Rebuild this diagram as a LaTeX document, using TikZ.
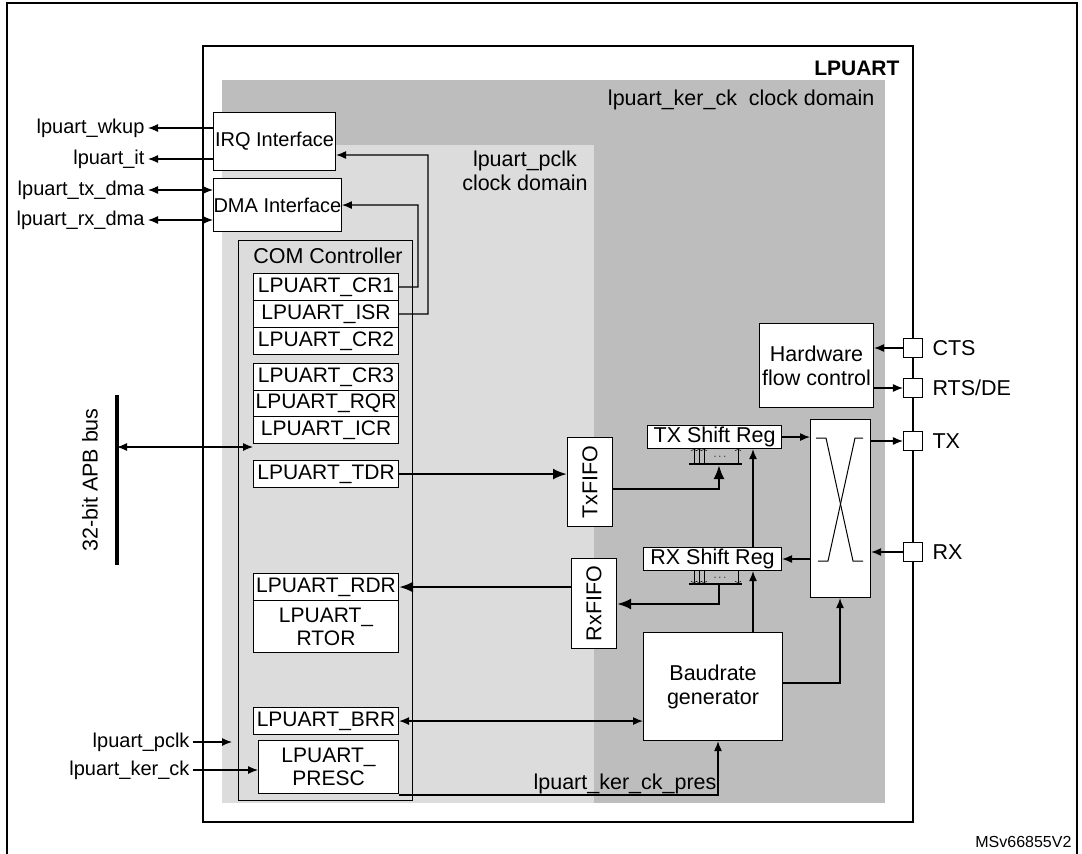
\documentclass[tikz,border=0pt]{standalone}
\usepackage{fontspec}
\setmainfont{Liberation Sans}
\usetikzlibrary{arrows.meta}
\definecolor{darkdom}{HTML}{BDBDBD}
\definecolor{lightdom}{HTML}{DCDCDC}
\tikzset{
	blk/.style={draw, line width=1.1pt, fill=white, inner sep=0pt, anchor=north west},
	regbox/.style={blk, minimum width=145pt, font=\fontsize{21}{23}\selectfont},
	pin/.style={draw, line width=1.1pt, fill=white, minimum size=19pt, inner sep=0pt},
	extlbl/.style={anchor=east, font=\fontsize{20}{22}\selectfont},
	sig/.style={-{Latex[length=10pt,width=8pt]}, line width=1.2pt},
	dsig/.style={{Latex[length=10pt,width=8pt]}-{Latex[length=10pt,width=8pt]}, line width=1.2pt},
	bus/.style={-{Latex[length=14pt,width=11pt]}, line width=2.4pt},
	dots/.style={inner sep=0pt, font=\fontsize{11}{11}\selectfont},
}
\begin{document}
\begin{tikzpicture}[x=1pt, y=-1pt, font=\fontsize{21.5}{24}\selectfont]
	\useasboundingbox (0,0) rectangle (1082,854);
	% frame and clock domains
	\draw[line width=1.1pt] (7,854) -- (7,3) -- (1077,3) -- (1077,854);
	\draw[line width=1.4pt] (203,46) rectangle (913,822);
	\fill[darkdom] (222,80) rectangle (885,803);
	\fill[lightdom] (222,145) rectangle (594,803);
	\node[anchor=east, font=\fontsize{21}{24}\selectfont\bfseries] (title) at (903,68) {LPUART};
	\node[anchor=east] (kerdom) at (878,100) {lpuart\_ker\_ck\ \ clock domain};
	\node[align=center] (pclkdom) at (525,171) {lpuart\_pclk\\clock domain};
	% interfaces
	\node[blk, minimum width=122pt, minimum height=58pt, font=\fontsize{20}{22}\selectfont] (irq) at (213,112) {IRQ Interface};
	\node[blk, minimum width=122pt, minimum height=53pt, font=\fontsize{20}{22}\selectfont] (dma) at (213,178) {DMA Interface};
	\node[blk, fill=lightdom, minimum width=174pt, minimum height=560pt] (com) at (238,240) {};
	\node[anchor=north, font=\fontsize{21.5}{24}\selectfont] (comlbl) at (328,244) {COM Controller};
	% registers
	\node[regbox, minimum height=27pt] (cr1) at (253,273) {LPUART\_CR1};
	\node[regbox, minimum height=27pt] (isr) at (253,300) {LPUART\_ISR};
	\node[regbox, minimum height=27pt] (cr2) at (253,327) {LPUART\_CR2};
	\node[regbox, minimum height=27pt] (cr3) at (253,363) {LPUART\_CR3};
	\node[regbox, minimum height=26pt] (rqr) at (253,390) {LPUART\_RQR};
	\node[regbox, minimum height=27pt] (icr) at (253,416) {LPUART\_ICR};
	\node[regbox, minimum height=27pt] (tdr) at (253,460) {LPUART\_TDR};
	\node[regbox, minimum height=27pt] (rdr) at (253,573) {LPUART\_RDR};
	\node[regbox, minimum height=52pt, align=center] (rtor) at (253,600) {LPUART\_\\RTOR};
	\node[regbox, minimum height=27pt] (brr) at (253,707) {LPUART\_BRR};
	\node[regbox, minimum width=140pt, minimum height=53pt, align=center] (presc) at (258,740) {LPUART\_\\PRESC};
	% datapath blocks
	\node[blk, minimum width=45pt, minimum height=89pt] (txfifo) at (567,437) {};
	\node[rotate=90] at (txfifo.center) {TxFIFO};
	\node[blk, minimum width=45pt, minimum height=90pt] (rxfifo) at (571,558) {};
	\node[rotate=90] at (rxfifo.center) {RxFIFO};
	\node[blk, minimum width=134pt, minimum height=23pt] (txsh) at (647,425) {TX Shift Reg};
	\node[blk, minimum width=138pt, minimum height=23pt] (rxsh) at (643,547) {RX Shift Reg};
	\node[blk, minimum width=114pt, minimum height=84pt, align=center] (hwfc) at (759,323) {Hardware\\flow control};
	\node[blk, minimum width=139pt, minimum height=108pt, align=center] (baud) at (643,632) {Baudrate\\generator};
	\node[blk, minimum width=60pt, minimum height=178pt] (xbar) at (810,419) {};
	\draw[line width=1pt] (816,438) -- (826,438) -- (853,561) -- (863,561);
	\draw[line width=1pt] (818,561) -- (828,561) -- (855,438) -- (863,438);
	% pins
	\node[pin] (cts) at (913,348) {};
	\node[pin] (rts) at (913,388) {};
	\node[pin] (tx) at (913,441) {};
	\node[pin] (rx) at (913,552) {};
	\node[anchor=west] at (cts.east) {\ CTS};
	\node[anchor=west] at (rts.east) {\ RTS/DE};
	\node[anchor=west] at (tx.east) {\ TX};
	\node[anchor=west] at (rx.east) {\ RX};
	% external signals
	\coordinate (wkup) at (148,128);
	\coordinate (it) at (148,159);
	\coordinate (txdma) at (148,190);
	\coordinate (rxdma) at (148,220);
	\coordinate (pclk) at (193,742);
	\coordinate (kerck) at (193,770);
	\node[extlbl] at (wkup) {lpuart\_wkup\ };
	\node[extlbl] at (it) {lpuart\_it\ };
	\node[extlbl] at (txdma) {lpuart\_tx\_dma\ };
	\node[extlbl] at (rxdma) {lpuart\_rx\_dma\ };
	\node[extlbl] at (pclk) {lpuart\_pclk\ };
	\node[extlbl] at (kerck) {lpuart\_ker\_ck\ };
	\draw[sig] (irq.west |- wkup) -- (wkup);
	\draw[sig] (irq.west |- it) -- (it);
	\draw[dsig] (txdma) -- (dma.west |- txdma);
	\draw[dsig] (rxdma) -- (dma.west |- rxdma);
	\draw[sig] (pclk) -- (232,742);
	\draw[sig] (kerck) -- (presc.west |- kerck);
	% interrupt and dma requests
	\draw[sig] (cr1.east) -- (418,287) |- (dma.east);
	\draw[sig] (isr.east) -- (428,314) |- (irq.east |- 0,155);
	% APB bus
	\coordinate (apbtop) at (117,395);
	\coordinate (apbbot) at (117,565);
	\draw[line width=3.5pt] (apbtop) -- (apbbot);
	\node[rotate=90] (apb) at (90,480) {32-bit APB bus};
	\draw[dsig] (117,447) -- (tdr.west |- 0,447);
	% data path
	\draw[bus] (tdr.east) -- (txfifo.west |- tdr.east);
	\draw[bus] (rxfifo.west |- rdr.east) -- (rdr.east);
	\draw[line width=1.8pt] (689,464) -- (742,464);
	\draw[line width=1.8pt] (689,584) -- (742,584);
	\foreach \xx in {694,699,704,738} {
		\draw[-{To[length=3pt]}] (\xx,464) -- (\xx,448);
		\draw[-{To[length=3pt]}] (\xx,570) -- (\xx,584);
	}
	\node[dots] at (720,457) {$\cdots$};
	\node[dots] at (720,578) {$\cdots$};
	\draw[bus] (txfifo.east |- 0,489) -- (719,489) -- (719,465);
	\draw[bus] (719,585) -- (719,604) -- (rxfifo.east |- 0,604);
	\draw[sig] (rxsh.north -| 753,0) -- (txsh.south -| 753,0);
	\draw[sig] (baud.north -| 753,0) -- (rxsh.south -| 753,0);
	\draw[sig] (txsh.east) -- (xbar.west |- txsh.east);
	\draw[sig] (xbar.west |- 0,559) -- (rxsh.east |- 0,559);
	\draw[sig] (xbar.east |- tx) -- (tx.west);
	\draw[sig] (rx.west) -- (xbar.east |- rx);
	\draw[sig] (cts.west) -- (hwfc.east |- cts);
	\draw[sig] (hwfc.east |- rts) -- (rts.west);
	\draw[sig] (baud.east |- 0,683) -- (840,683) -- (xbar.south -| 840,0);
	\draw[dsig] (brr.east) -- (baud.west |- brr.east);
	\draw[sig] (presc.east |- 0,795) -- (718,795) -- (baud.south -| 718,0);
	\node[anchor=south] (kerpres) at (625,797) {lpuart\_ker\_ck\_pres};
	\node[anchor=east, font=\fontsize{16}{18}\selectfont] (ref) at (1075,842) {MSv66855V2};
\end{tikzpicture}
\end{document}
